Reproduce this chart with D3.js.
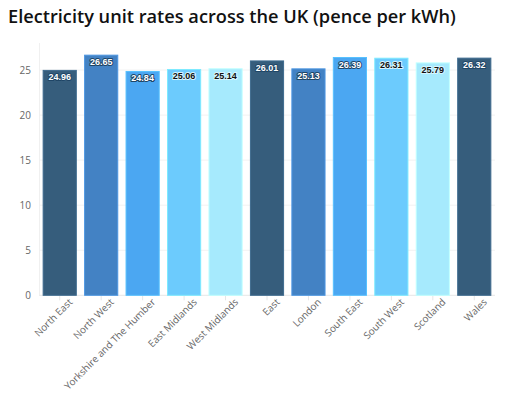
<!DOCTYPE html>
<html>
<head>
<meta charset="utf-8">
<script src="https://cdn.jsdelivr.net/npm/d3@7"></script>
<style>
  body { margin: 0; background: #fff; }
  svg { display: block; }
</style>
</head>
<body>
<svg id="chart" width="512" height="395"></svg>
<script>
const regions = ['North East', 'North West', 'Yorkshire and The Humber', 'East Midlands', 'West Midlands',
    'East', 'London', 'South East', 'South West', 'Scotland', 'Wales'];
const rates = [24.96, 26.65, 24.84, 25.06, 25.14, 26.01, 25.13, 26.39, 26.31, 25.79, 26.32];
const yTicks = [0, 5, 10, 15, 20, 25];
const palette = ['#365d7c', '#4382c4', '#4ba7f2', '#6ccbfd', '#a6eafd'];
const darkText = [true, true, true, false, false];

const svg = d3.select('#chart');
const margin = { top: 43, right: 17, bottom: 102, left: 39 };
const width = 512, height = 395;

const x = d3.scaleBand()
    .domain(regions)
    .range([margin.left, width - margin.right])
    .paddingInner(0.2)
    .paddingOuter(0.1);

const y = d3.scaleLinear()
    .domain([0, 28])
    .range([height - margin.bottom + 2.3, margin.top]);

// title
svg.append('text')
    .attr('x', 8)
    .attr('y', 23)
    .attr('font-family', 'Open Sans, sans-serif')
    .attr('font-weight', 600)
    .attr('font-size', 18.2)
    .attr('fill', '#111')
    .text('Electricity unit rates across the UK (pence per kWh)');

// grid
svg.append('g')
    .selectAll('line')
    .data(yTicks)
    .join('line')
    .attr('x1', margin.left)
    .attr('x2', width - margin.right)
    .attr('y1', d => y(d))
    .attr('y2', d => y(d))
    .attr('stroke', d => d === 0 ? '#e6e6e6' : '#f2f2f2')
    .attr('stroke-width', 1);

svg.append('line')
    .attr('x1', margin.left + 0.5).attr('x2', margin.left + 0.5)
    .attr('y1', margin.top).attr('y2', y(0))
    .attr('stroke', '#f0f0f0');

// y axis
const yAxis = svg.append('g')
    .attr('transform', `translate(${margin.left},0)`)
    .call(d3.axisLeft(y).tickValues(yTicks).tickSize(0).tickPadding(8));
yAxis.select('.domain').remove();
yAxis.selectAll('text')
    .attr('font-family', 'Open Sans, sans-serif')
    .attr('font-size', 10)
    .attr('fill', '#666');

// x axis
const xAxis = svg.append('g')
    .attr('transform', `translate(0,${y(0)})`)
    .call(d3.axisBottom(x).tickSize(5).tickPadding(2));
xAxis.select('.domain').remove();
xAxis.selectAll('line').attr('stroke', '#e6e6e6');
xAxis.selectAll('text')
    .attr('font-family', 'Open Sans, sans-serif')
    .attr('font-size', 9.9)
    .attr('fill', '#666')
    .attr('text-anchor', 'end')
    .attr('dy', '0.35em')
    .attr('transform', 'translate(6,0) rotate(-45)');

// bars
svg.append('g')
    .selectAll('rect')
    .data(rates)
    .join('rect')
    .attr('x', (d, i) => x(regions[i]))
    .attr('width', x.bandwidth())
    .attr('y', d => y(d))
    .attr('height', d => y(0) - y(d))
    .attr('fill', (d, i) => palette[i % 5])
    .attr('stroke', (d, i) => d3.color(palette[i % 5]).brighter(0.4))
    .attr('stroke-width', 1);

// value labels
svg.append('g')
    .selectAll('text')
    .data(rates)
    .join('text')
    .attr('x', (d, i) => x(regions[i]) + x.bandwidth() / 2)
    .attr('y', d => y(d) + 10)
    .attr('text-anchor', 'middle')
    .attr('font-family', 'Liberation Sans, Arial, sans-serif')
    .attr('font-weight', 700)
    .attr('font-size', 9)
    .attr('paint-order', 'stroke')
    .attr('stroke-width', 2)
    .attr('stroke-linejoin', 'round')
    .attr('stroke', (d, i) => darkText[i % 5] ? '#1f4566' : '#d8f6ff')
    .attr('fill', (d, i) => darkText[i % 5] ? '#fff' : '#111')
    .text(d => d.toFixed(2));
</script>
</body>
</html>
